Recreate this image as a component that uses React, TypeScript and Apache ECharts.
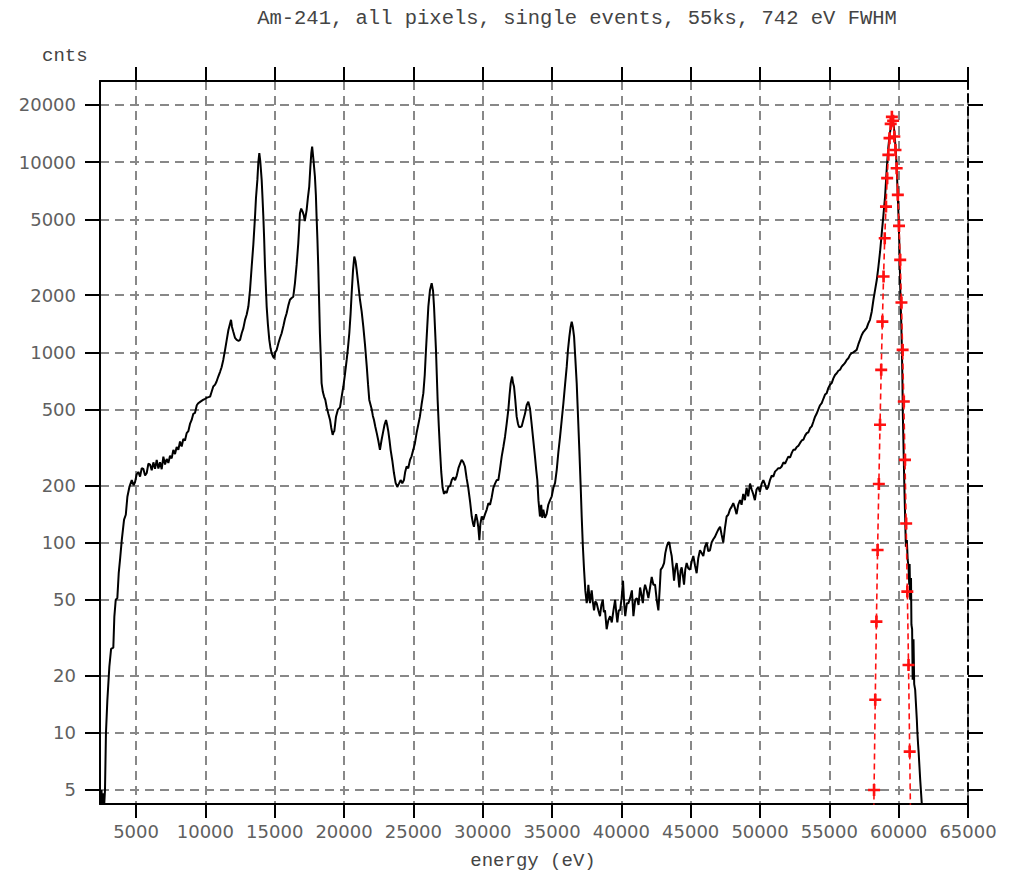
import React, { useEffect, useRef } from "react";
import * as echarts from "echarts";

// ---- data ----
const xTicks = [5000, 10000, 15000, 20000, 25000, 30000, 35000, 40000, 45000, 50000, 55000, 60000, 65000];
const yTicks = [5, 10, 20, 50, 100, 200, 500, 1000, 2000, 5000, 10000, 20000];

// measured spectrum: energy (eV)
const specE = [
  2440, 2510, 2550, 2620, 2690, 2760, 2830, 2930, 3075, 3200, 3360, 3435, 3535, 3650, 3750, 3846, 3970, 4135, 4260, 4375,
  4520, 4690, 4820, 4930, 5040, 5165, 5290, 5410, 5525, 5650, 5770, 5890, 6010, 6130, 6250, 6370, 6490, 6610, 6730, 6850,
  6970, 7090, 7210, 7330, 7450, 7570, 7690, 7810, 7930, 8050, 8170, 8290, 8410, 8530, 8650, 8770, 8890, 9010, 9130, 9250,
  9380, 9490, 9620, 9830, 9980, 10120, 10340, 10440, 10570, 10700, 10800, 10930, 11060, 11170, 11290, 11420, 11540, 11660, 11740, 11850,
  11920, 12020, 12140, 12260, 12390, 12500, 12620, 12740, 12860, 12980, 13100, 13220, 13340, 13460, 13580, 13650, 13750, 13820, 13890, 13960,
  14060, 14120, 14180, 14240, 14300, 14370, 14420, 14510, 14610, 14700, 14780, 14880, 14950, 15040, 15140, 15270, 15380, 15500, 15630, 15740,
  15860, 15980, 16100, 16220, 16340, 16460, 16580, 16700, 16760, 16820, 16910, 17010, 17100, 17170, 17300, 17390, 17490, 17570, 17640, 17700,
  17790, 17900, 17970, 18020, 18080, 18140, 18200, 18260, 18330, 18380, 18470, 18560, 18650, 18750, 18870, 18990, 19080, 19180, 19240, 19300,
  19360, 19420, 19560, 19710, 19830, 19950, 20070, 20190, 20280, 20380, 20470, 20550, 20650, 20740, 20830, 20910, 21030, 21150, 21270, 21390,
  21510, 21640, 21730, 21820, 21910, 22000, 22080, 22160, 22260, 22360, 22470, 22590, 22700, 22830, 22920, 23030, 23110, 23190, 23280, 23360,
  23480, 23600, 23720, 23840, 23960, 24080, 24200, 24320, 24410, 24510, 24630, 24760, 24870, 24990, 25110, 25230, 25350, 25470, 25590, 25720,
  25820, 25910, 26000, 26080, 26200, 26320, 26420, 26490, 26560, 26630, 26690, 26750, 26830, 26920, 27010, 27110, 27210, 27280, 27400, 27520,
  27650, 27770, 27880, 28010, 28130, 28250, 28370, 28480, 28600, 28720, 28840, 28960, 29090, 29210, 29300, 29370, 29450, 29520, 29610, 29680,
  29760, 29830, 29930, 30040, 30170, 30290, 30410, 30530, 30650, 30770, 30890, 31010, 31130, 31250, 31370, 31490, 31610, 31730, 31850, 31940,
  32020, 32120, 32190, 32260, 32350, 32450, 32550, 32620, 32710, 32810, 32930, 33050, 33170, 33290, 33410, 33530, 33650, 33770, 33860, 33940,
  34020, 34130, 34220, 34290, 34370, 34490, 34610, 34730, 34860, 34980, 35100, 35220, 35340, 35460, 35580, 35700, 35820, 35940, 36060, 36150,
  36250, 36340, 36420, 36500, 36590, 36680, 36780, 36870, 36970, 37060, 37140, 37220, 37310, 37400, 37500, 37560, 37620, 37680, 37740, 37800,
  37860, 37940, 38030, 38120, 38220, 38340, 38460, 38560, 38660, 38740, 38820, 38940, 39060, 39190, 39310, 39430, 39550, 39630, 39710, 39810,
  39910, 40020, 40120, 40210, 40280, 40400, 40510, 40630, 40760, 40870, 41000, 41120, 41240, 41350, 41450, 41550, 41630, 41710, 41830, 41950,
  42070, 42190, 42310, 42430, 42550, 42670, 42760, 42840, 42960, 43080, 43170, 43270, 43370, 43460, 43550, 43630, 43730, 43800, 43890, 43990,
  44090, 44180, 44270, 44350, 44450, 44520, 44610, 44710, 44830, 44950, 45080, 45190, 45310, 45430, 45550, 45670, 45790, 45910, 46030, 46150,
  46270, 46390, 46510, 46630, 46750, 46870, 46990, 47120, 47230, 47350, 47470, 47590, 47710, 47830, 47950, 48070, 48190, 48310, 48430, 48560,
  48670, 48790, 48910, 49030, 49150, 49280, 49400, 49510, 49630, 49750, 49870, 49990, 50120, 50240, 50360, 50480, 50590, 50720, 50840, 50960,
  51080, 51210, 51320, 51450, 51560, 51690, 51810, 51930, 52040, 52170, 52290, 52400, 52520, 52650, 52760, 52890, 53010, 53130, 53250, 53370,
  53490, 53610, 53730, 53840, 53970, 54080, 54200, 54330, 54450, 54570, 54690, 54810, 54930, 55050, 55170, 55290, 55410, 55530, 55650, 55770,
  55890, 56010, 56130, 56250, 56370, 56490, 56610, 56730, 56850, 56970, 57090, 57210, 57330, 57450, 57570, 57690, 57810, 57930, 58060, 58180,
  58300, 58420, 58540, 58660, 58780, 58900, 59020, 59150, 59260, 59350, 59440, 59550, 59620, 59700, 59760, 59820, 59870, 59910, 59990, 60060,
  60110, 60180, 60230, 60270, 60300, 60350, 60400, 60460, 60520, 60590, 60650, 60710, 60760, 60790, 60830, 60890, 60920, 60970, 61010, 61070,
  61120, 61190, 61310, 61350, 61400, 61440, 61550, 61670,
];
// measured spectrum: counts
const specC = [
  4.0, 5.0, 4.0, 4.8, 4.0, 5.0, 10, 14.8, 22.3, 27.6, 28, 40.8, 50, 51, 69, 81.5, 103, 132, 140, 174,
  196, 213, 200, 208, 228, 235, 222, 246, 244, 225, 232, 260, 257, 240, 264, 244, 272, 245, 264, 243,
  283, 257, 275, 262, 286, 277, 307, 292, 318, 307, 340, 320, 350, 344, 376, 385, 420, 441, 475, 480,
  527, 540, 549, 562, 570, 578, 585, 617, 661, 676, 700, 746, 790, 835, 912, 1030, 1162, 1310, 1380, 1482,
  1360, 1278, 1190, 1162, 1150, 1162, 1260, 1340, 1482, 1580, 1740, 2130, 2826, 3700, 5170, 6500, 8066, 10000, 11140, 10100,
  8066, 6500, 5170, 3930, 2826, 2130, 1740, 1400, 1162, 1050, 990, 950, 930, 1000, 1030, 1120, 1190, 1260, 1380, 1500,
  1606, 1760, 1890, 1930, 1960, 2310, 2880, 3750, 4490, 5390, 5700, 5490, 5250, 4900, 5580, 6460, 7440, 9400, 11160, 12070,
  10370, 8400, 6700, 5170, 3930, 2830, 1890, 1260, 912, 689, 620, 585, 562, 514, 475, 441, 400, 368, 380, 385,
  420, 459, 500, 514, 585, 661, 770, 912, 1050, 1260, 1580, 2047, 2714, 3190, 3010, 2714, 2270, 1890, 1640, 1366,
  1100, 841, 680, 562, 530, 500, 463, 441, 405, 376, 344, 307, 344, 385, 416, 441, 415, 385, 344, 307,
  270, 232, 206, 196, 204, 213, 205, 213, 235, 251, 246, 272, 284, 307, 332, 376, 415, 459, 530, 610,
  760, 1030, 1360, 1740, 2130, 2310, 2100, 1740, 1340, 1030, 760, 562, 415, 307, 235, 194, 180, 186, 182, 196,
  198, 213, 220, 213, 225, 246, 260, 272, 265, 251, 218, 194, 164, 137, 126, 121, 132, 141, 131, 121,
  103, 125, 137, 132, 141, 149, 161, 158, 173, 194, 204, 213, 213, 244, 283, 318, 360, 422, 500, 600,
  689, 746, 689, 661, 562, 459, 420, 405, 405, 408, 441, 475, 527, 550, 507, 420, 344, 283, 241, 213,
  167, 137, 158, 135, 149, 135, 141, 158, 167, 175, 194, 206, 241, 300, 360, 441, 541, 676, 841, 1030,
  1210, 1360, 1450, 1360, 1210, 930, 689, 470, 307, 204, 137, 97, 72, 56, 48, 51, 60, 53, 48, 52,
  56, 49, 44, 49, 48, 44, 41, 47, 50, 43, 44, 35, 39, 41, 38, 44, 50, 43, 38, 44,
  44, 51, 63, 47, 41, 48, 48, 51, 56, 41, 50, 51, 47, 58, 53, 48, 56, 60, 56, 51,
  58, 66, 60, 60, 50, 44, 56, 72, 74, 78, 88, 95, 100, 100, 91, 85, 72, 63, 73, 78,
  68, 58, 71, 74, 66, 60, 72, 78, 73, 72, 80, 85, 76, 69, 83, 91, 88, 85, 95, 100,
  90, 91, 100, 104, 107, 112, 117, 121, 110, 100, 119, 137, 140, 149, 154, 161, 152, 141, 158, 167,
  158, 180, 167, 194, 175, 204, 190, 180, 167, 190, 196, 185, 204, 213, 202, 190, 196, 213, 225, 222,
  236, 241, 246, 246, 251, 264, 260, 272, 283, 280, 296, 307, 307, 318, 322, 334, 344, 348, 365, 376,
  380, 400, 408, 430, 459, 475, 500, 527, 541, 570, 600, 610, 650, 676, 689, 730, 760, 776, 800, 810,
  841, 860, 880, 912, 930, 970, 990, 1000, 1015, 1030, 1100, 1162, 1230, 1278, 1310, 1340, 1420, 1482, 1640, 1890,
  2130, 2400, 2826, 3390, 4230, 5260, 6590, 9480, 12070, 13920, 15380, 16640, 15880, 14200, 12330, 10700, 8900, 7440, 5170, 3460,
  2220, 1480, 1062, 720, 475, 318, 213, 141, 95, 103, 81, 75, 60, 77, 50, 65, 37, 35, 19, 31,
  18, 16.8, 11.7, 10, 8.7, 7.9, 5.7, 4.2,
];

// fitted peak (red dashed with + markers)
const fitE = [
  58140, 58225, 58310, 58395, 58480, 58570, 58655, 58740, 58825, 58910, 58995, 59085, 59170, 59255, 59340, 59425,
  59510, 59600, 59685, 59770, 59855, 59940, 60025, 60110, 60200, 60285, 60370, 60455, 60540, 60625, 60710, 60795, 60880,
];
const fitC = [
  1.5, 5.0, 14.9, 38.4, 91.4, 203, 416, 809, 1451, 2504, 3982, 5838, 8234, 10920, 13370, 15900,
  17300, 16500, 13630, 11590, 9290, 6730, 4620, 3063, 1827, 1030, 551, 272, 126, 55.2, 22.7, 7.96, 2.6,
];

const X_MIN = 2400;
const X_MAX = 65000;
const Y_MIN = 4.22;
const Y_MAX = 26700;

const TITLE = "Am-241, all pixels, single events, 55ks, 742 eV FWHM";

export default function App() {
  const ref = useRef<HTMLDivElement>(null);

  useEffect(() => {
    if (!ref.current) return;
    const chart = echarts.init(ref.current, undefined, { renderer: "svg" });
    const lg = (v: number) => Math.log10(v);
    const yTickLog = yTicks.map(lg);
    const specData = specE.map((e, i) => [e, lg(specC[i])]);
    const fitData = fitE.map((e, i) => [e, lg(fitC[i])]);

    const labelFont = { fontFamily: "DejaVu Sans", fontSize: 18, color: "#606060" };
    const grid = { lineStyle: { color: "#888888", width: 2, type: [9, 6] as any } };
    const plus = "path://M4.3,0H6.7V4.3H11V6.7H6.7V11H4.3V6.7H0V4.3H4.3Z";

    chart.setOption({
      animation: false,
      backgroundColor: "#ffffff",
      grid: { left: 100, right: 47, top: 81, bottom: 70, containLabel: false, outerBoundsMode: "none" },
      xAxis: [
        {
          type: "value",
          min: X_MIN,
          max: X_MAX,
          position: "bottom",
          axisLine: { onZero: false, lineStyle: { color: "#000", width: 2 } },
          axisTick: { show: true, inside: false, length: 14, customValues: xTicks, lineStyle: { color: "#000", width: 2 } },
          axisLabel: {
            show: true,
            margin: 18,
            customValues: xTicks,
            showMinLabel: true,
            showMaxLabel: true,
            formatter: (v: number) => String(Math.round(v)),
            ...labelFont,
          },
          splitLine: { show: true, ...grid },
        },
        {
          type: "value",
          min: X_MIN,
          max: X_MAX,
          position: "top",
          axisLine: { onZero: false, lineStyle: { color: "#000", width: 2 } },
          axisTick: { show: true, inside: false, length: 14, customValues: xTicks, lineStyle: { color: "#000", width: 2 } },
          axisLabel: { show: false },
          splitLine: { show: false },
        },
      ],
      yAxis: [
        {
          type: "value",
          min: lg(Y_MIN),
          max: lg(Y_MAX),
          position: "left",
          axisLine: { onZero: false, lineStyle: { color: "#000", width: 2 } },
          axisTick: { show: true, inside: false, length: 15, customValues: yTickLog, lineStyle: { color: "#000", width: 2 } },
          axisLabel: {
            show: true,
            margin: 24,
            customValues: yTickLog,
            showMinLabel: true,
            showMaxLabel: true,
            formatter: (v: number) => String(Math.round(Math.pow(10, v))),
            ...labelFont,
          },
          splitLine: { show: true, ...grid },
        },
        {
          type: "value",
          min: lg(Y_MIN),
          max: lg(Y_MAX),
          position: "right",
          axisLine: { onZero: false, lineStyle: { color: "#000", width: 2, type: [8, 5] } },
          axisTick: { show: true, inside: false, length: 15, customValues: yTickLog, lineStyle: { color: "#000", width: 2 } },
          axisLabel: { show: false },
          splitLine: { show: false },
        },
      ],
      series: [
        {
          type: "line",
          name: "spectrum",
          data: specData,
          xAxisIndex: 0,
          yAxisIndex: 0,
          showSymbol: false,
          symbol: "none",
          clip: true,
          lineStyle: { color: "#000", width: 2 },
          z: 3,
        },
        {
          type: "line",
          name: "fit",
          data: fitData,
          xAxisIndex: 0,
          yAxisIndex: 0,
          showSymbol: true,
          symbol: plus,
          symbolSize: 12,
          clip: true,
          itemStyle: { color: "#ff1010" },
          lineStyle: { color: "#ff1010", width: 1.6, type: [6, 4] },
          z: 4,
        },
      ],
      graphic: [
        {
          type: "text",
          x: 577,
          y: 18,
          style: {
            text: TITLE,
            fontFamily: "Liberation Mono",
            fontSize: 20.5,
            fill: "#444",
            textAlign: "center",
            textVerticalAlign: "middle",
          },
        },
        {
          type: "text",
          x: 42,
          y: 56,
          style: {
            text: "cnts",
            fontFamily: "Liberation Mono",
            fontSize: 19,
            fill: "#444",
            textAlign: "left",
            textVerticalAlign: "middle",
          },
        },
        {
          type: "text",
          x: 533,
          y: 861,
          style: {
            text: "energy (eV)",
            fontFamily: "Liberation Mono",
            fontSize: 19,
            fill: "#444",
            textAlign: "center",
            textVerticalAlign: "middle",
          },
        },
      ],
    });
    return () => chart.dispose();
  }, []);

  return (
    <div
      ref={ref}
      style={{ position: "fixed", left: 0, top: 0, width: 1015, height: 874, background: "#fff" }}
    />
  );
}
